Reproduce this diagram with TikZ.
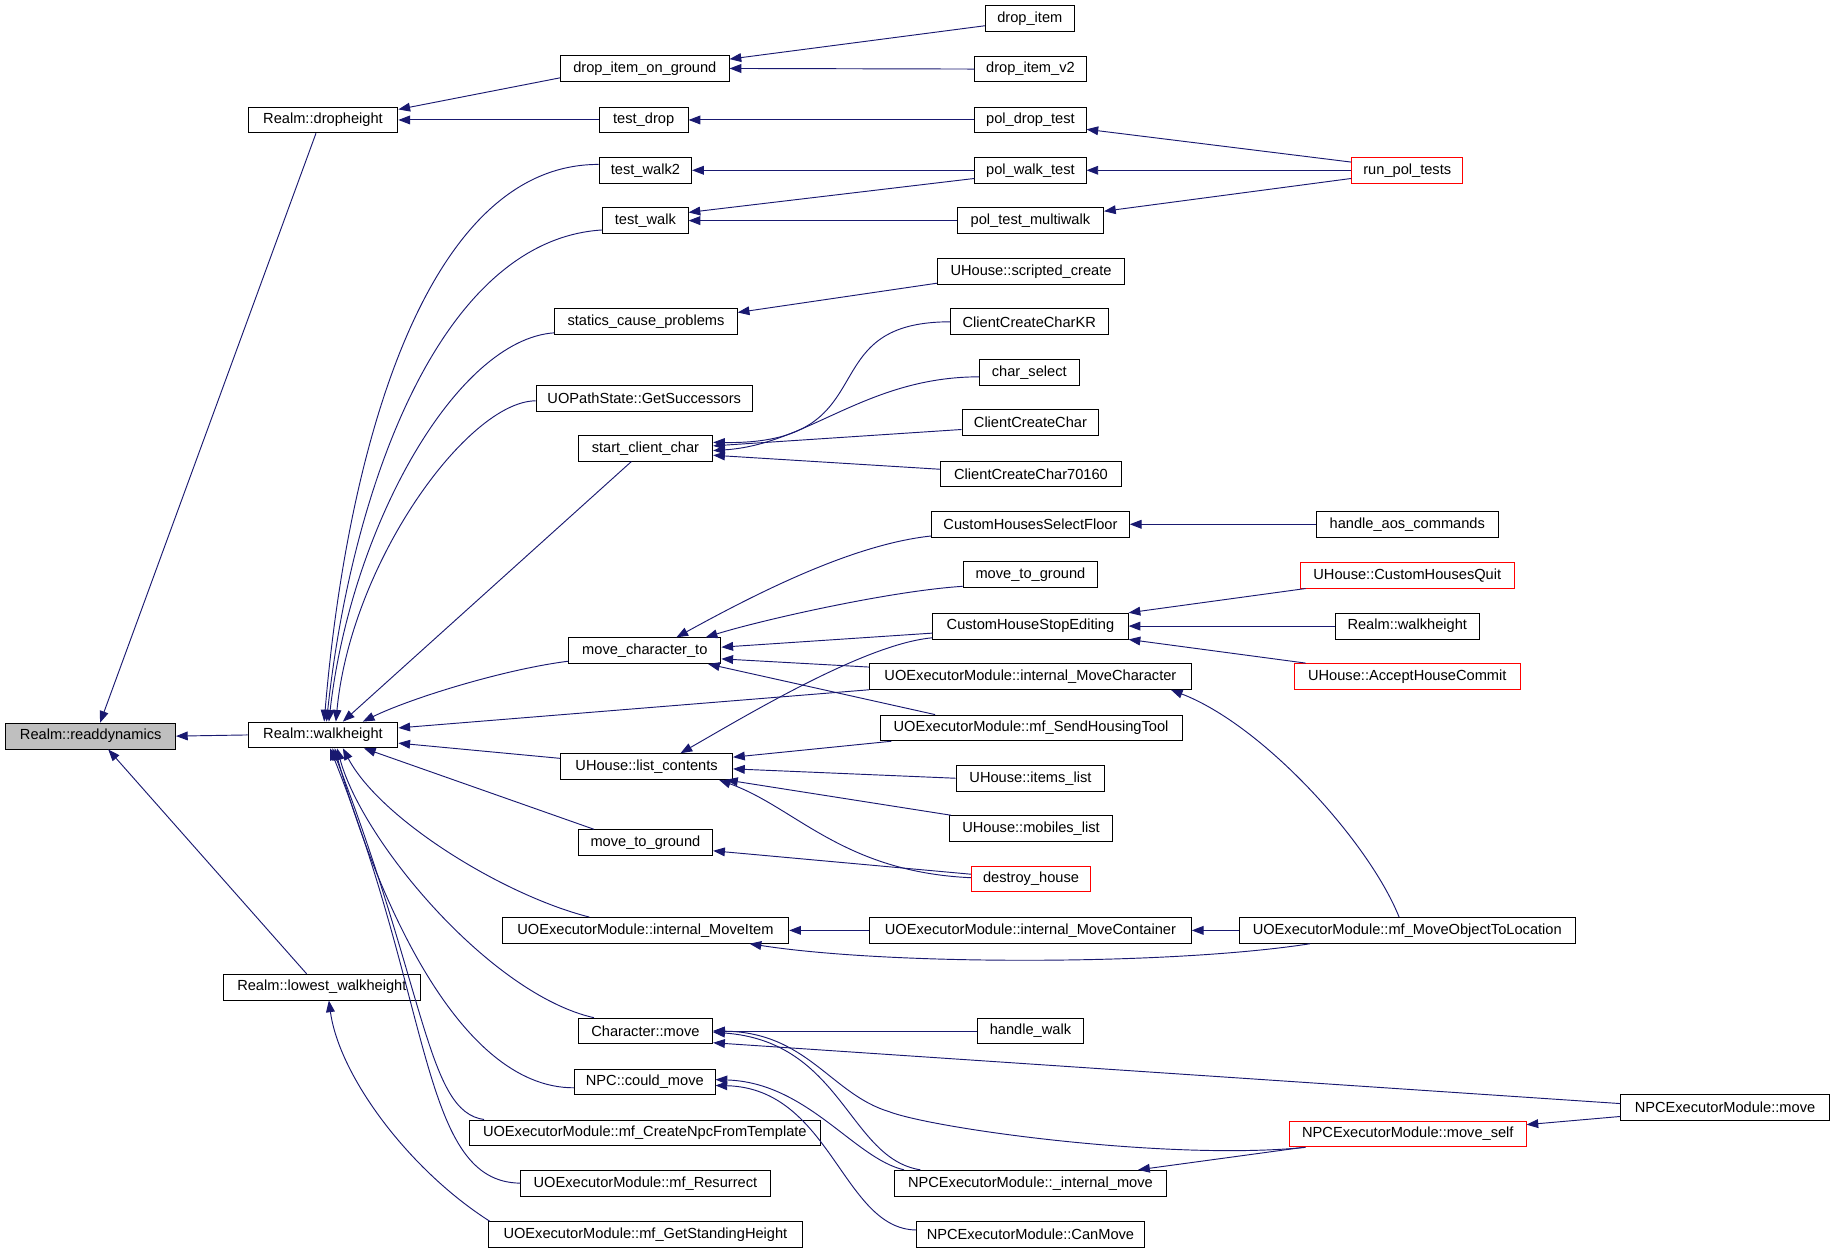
\documentclass[tikz,border=0pt]{standalone}
\usepackage{fontspec}
\setmainfont{Liberation Sans}
\usetikzlibrary{arrows.meta}
\definecolor{edgeblue}{HTML}{191970}
\tikzset{
  fn/.style={draw, fill=white, line width=0.8pt, minimum height=22pt, inner sep=0pt,
    font=\fontsize{12.5}{14}\selectfont},
  cur/.style={fn, fill=black!25},
  hl/.style={fn, draw=red},
  call/.style={draw=edgeblue, line width=0.8pt, {Triangle[length=10pt,width=7.5pt]}-}
}
\begin{document}
\begin{tikzpicture}[x=1pt, y=-1pt]
      \useasboundingbox (0,0) rectangle (1568,1071);
      \path
        (77.5,629) node[cur, minimum width=145pt] (rd) {Realm::readdynamics}
        (276,102.5) node[fn, minimum width=128pt] (dh) {Realm::dropheight}
        (276,628) node[fn, minimum width=128pt] (wh) {Realm::walkheight}
        (275,843.5) node[fn, minimum width=168pt] (lw) {Realm::lowest\_walkheight}
        (551,58.5) node[fn, minimum width=144pt] (dig) {drop\_item\_on\_ground}
        (550,102.5) node[fn, minimum width=76pt] (td) {test\_drop}
        (551.5,145.5) node[fn, minimum width=79pt] (tw2) {test\_walk2}
        (551.5,188.5) node[fn, minimum width=73pt] (tw) {test\_walk}
        (552,275) node[fn, minimum width=156pt] (scp) {statics\_cause\_problems}
        (550.5,340.5) node[fn, minimum width=185pt] (gs) {UOPathState::GetSuccessors}
        (551.5,383) node[fn, minimum width=115pt] (scc) {start\_client\_char}
        (551,556) node[fn, minimum width=130pt] (mct) {move\_character\_to}
        (552.5,655) node[fn, minimum width=147pt] (lc) {UHouse::list\_contents}
        (551.5,720) node[fn, minimum width=115pt] (mtg2) {move\_to\_ground}
        (551.5,795) node[fn, minimum width=245pt] (imi) {UOExecutorModule::internal\_MoveItem}
        (551.5,881) node[fn, minimum width=115pt] (cm) {Character::move}
        (551,924.5) node[fn, minimum width=120pt] (ncm) {NPC::could\_move}
        (551,968) node[fn, minimum width=300pt] (cnt) {UOExecutorModule::mf\_CreateNpcFromTemplate}
        (551.5,1011) node[fn, minimum width=213pt] (res) {UOExecutorModule::mf\_Resurrect}
        (551.5,1055) node[fn, minimum width=269pt] (gsh) {UOExecutorModule::mf\_GetStandingHeight}
        (880,16) node[fn, minimum width=76pt] (di) {drop\_item}
        (880.5,59) node[fn, minimum width=95pt] (div2) {drop\_item\_v2}
        (880.5,102.5) node[fn, minimum width=95pt] (pdt) {pol\_drop\_test}
        (880.5,145.5) node[fn, minimum width=95pt] (pwt) {pol\_walk\_test}
        (880.5,188.5) node[fn, minimum width=125pt] (ptm) {pol\_test\_multiwalk}
        (881,232) node[fn, minimum width=160pt] (usc) {UHouse::scripted\_create}
        (879.5,275) node[fn, minimum width=135pt] (kr) {ClientCreateCharKR}
        (879.5,318) node[fn, minimum width=85pt] (cs) {char\_select}
        (880.5,361) node[fn, minimum width=117pt] (ccc) {ClientCreateChar}
        (881,405) node[fn, minimum width=154pt] (c70) {ClientCreateChar70160}
        (880.5,448) node[fn, minimum width=169pt] (csf) {CustomHousesSelectFloor}
        (880.5,491) node[fn, minimum width=115pt] (mtg3) {move\_to\_ground}
        (880.5,535) node[fn, minimum width=167pt] (chse) {CustomHouseStopEditing}
        (880.5,578) node[fn, minimum width=275pt] (imc) {UOExecutorModule::internal\_MoveCharacter}
        (881,622) node[fn, minimum width=258pt] (sht) {UOExecutorModule::mf\_SendHousingTool}
        (880.5,665) node[fn, minimum width=127pt] (il) {UHouse::items\_list}
        (881,708) node[fn, minimum width=140pt] (ml) {UHouse::mobiles\_list}
        (881,751) node[hl, minimum width=102pt] (dhs) {destroy\_house}
        (880.5,795) node[fn, minimum width=275pt] (imct) {UOExecutorModule::internal\_MoveContainer}
        (880.5,881) node[fn, minimum width=91pt] (hw) {handle\_walk}
        (880.5,1011) node[fn, minimum width=233pt] (nim) {NPCExecutorModule::\_internal\_move}
        (880.5,1055) node[fn, minimum width=195pt] (canm) {NPCExecutorModule::CanMove}
        (1202.5,145.5) node[hl, minimum width=95pt] (rpt) {run\_pol\_tests}
        (1202.5,448) node[fn, minimum width=155pt] (hac) {handle\_aos\_commands}
        (1202.5,491.5) node[hl, minimum width=183pt] (chq) {UHouse::CustomHousesQuit}
        (1202.5,535) node[fn, minimum width=123pt] (wh2) {Realm::walkheight}
        (1202.5,578) node[hl, minimum width=193pt] (ahc) {UHouse::AcceptHouseCommit}
        (1202.5,795) node[fn, minimum width=287pt] (motl) {UOExecutorModule::mf\_MoveObjectToLocation}
        (1203,969) node[hl, minimum width=202pt] (ms) {NPCExecutorModule::move\_self}
        (1474,946) node[fn, minimum width=178pt] (nem) {NPCExecutorModule::move};
      \begin{scope}[call]
        \draw ([xshift=8pt]rd.north) to ([xshift=-6pt]dh.south);
        \draw (rd.east) to (wh.west);
        \draw ([xshift=15pt]rd.south) to ([xshift=-13pt]lw.north);
        \draw ([yshift=9pt]dh.east) to ([yshift=-8pt]dig.west);
        \draw (dh.east) to (td.west);
        \draw ([yshift=8pt]dig.east) to ([yshift=-6pt]di.west);
        \draw (dig.east) to (div2.west);
        \draw (td.east) to (pdt.west);
        \draw ([yshift=-8pt]pdt.east) to ([yshift=7pt]rpt.west);
        \draw (tw2.east) to (pwt.west);
        \draw ([yshift=7pt]tw.east) to ([yshift=-7pt]pwt.west);
        \draw (tw.east) to (ptm.west);
        \draw (pwt.east) to (rpt.west);
        \draw ([yshift=8pt]ptm.east) to ([yshift=-7pt]rpt.west);
        \draw ([xshift=1pt]wh.north) .. controls (297,380) and (365,140) .. ([yshift=5pt]tw2.west);
        \draw ([xshift=3pt]wh.north) .. controls (300,420) and (375,205) .. ([yshift=-8pt]tw.west);
        \draw ([xshift=5pt]wh.north) .. controls (300,450) and (390,290) .. ([yshift=2pt]scp.south west);
        \draw ([xshift=11pt]wh.north) .. controls (300,480) and (400,343) .. ([yshift=-2pt]gs.west);
        \draw ([xshift=17pt]wh.north) to ([xshift=-12pt]scc.south);
        \draw ([xshift=34pt]wh.north) .. controls (350,597) and (430,572) .. ([yshift=-9pt]mct.west);
        \draw ([yshift=6pt]wh.east) to (imc.south west);
        \draw ([yshift=-7pt]wh.east) to ([yshift=7pt]lc.west);
        \draw ([xshift=35pt]wh.south) to ([xshift=-44pt]mtg2.north);
        \draw ([xshift=17pt]wh.south) .. controls (325,700) and (430,765) .. ([xshift=-48pt]imi.north);
        \draw ([xshift=12pt]wh.south) .. controls (310,720) and (420,850) .. ([xshift=-44pt]cm.north);
        \draw ([xshift=10pt]wh.south) .. controls (320,760) and (390,930) .. ([yshift=-5pt]ncm.west);
        \draw ([xshift=8pt]wh.south) .. controls (365,850) and (365,950) .. ([xshift=13pt]cnt.north west);
        \draw ([xshift=6pt]wh.south) .. controls (370,860) and (360,1010) .. (res.west);
        \draw ([xshift=6pt]lw.south) .. controls (290,920) and (350,1000) .. ([xshift=2pt]gsh.north west);
        \draw ([yshift=8pt]scp.east) to ([yshift=-10pt]usc.west);
        \draw ([yshift=5pt]scc.east) .. controls (760,380) and (690,275) .. (kr.west);
        \draw ([yshift=-2pt]scc.east) .. controls (690,380) and (740,322) .. ([yshift=-4pt]cs.west);
        \draw ([yshift=2pt]scc.east) to ([yshift=-6pt]ccc.west);
        \draw ([yshift=-6pt]scc.east) to ([yshift=4pt]c70.west);
        \draw ([xshift=27pt]mct.north) .. controls (650,505) and (730,465) .. ([yshift=-10pt]csf.west);
        \draw ([xshift=52pt]mct.north) .. controls (650,530) and (760,505) .. ([yshift=-10pt]mtg3.west);
        \draw ([yshift=3pt]mct.east) to ([yshift=-6pt]chse.west);
        \draw ([yshift=-7pt]mct.east) to ([yshift=8pt]imc.west);
        \draw ([xshift=54pt]mct.south) to ([xshift=-82pt]sht.north);
        \draw ([xshift=29pt]lc.north) .. controls (640,610) and (740,550) .. ([yshift=-10pt]chse.west);
        \draw ([yshift=8pt]lc.east) to ([xshift=10pt]sht.south west);
        \draw ([yshift=-2pt]lc.east) to (il.west);
        \draw ([xshift=-6pt]lc.south east) to ([xshift=2pt]ml.north west);
        \draw ([xshift=-12pt]lc.south east) .. controls (680,690) and (720,745) .. ([yshift=1pt]dhs.west);
        \draw ([yshift=-7pt]mtg2.east) to ([yshift=4pt]dhs.west);
        \draw (imi.east) to (imct.west);
        \draw ([xshift=89pt]imi.south) .. controls (760,825) and (1000,825) .. ([xshift=-83pt]motl.south);
        \draw (cm.east) to (hw.west);
        \draw ([yshift=-10pt]cm.east) to ([yshift=3pt]nem.west);
        \draw (cm.east) .. controls (690,882) and (710,935) .. (760,950)
          .. controls (800,965) and (1000,992) .. ([xshift=14pt]ms.south west);
        \draw ([yshift=-1pt]cm.east) .. controls (720,890) and (725,990) .. ([xshift=-94pt]nim.north);
        \draw ([yshift=2pt]ncm.east) .. controls (690,925) and (730,990) .. ([xshift=-108pt]nim.north);
        \draw ([yshift=-3pt]ncm.east) .. controls (710,930) and (720,1050) .. ([yshift=4pt]canm.west);
        \draw (csf.east) to (hac.west);
        \draw (chse.north east) to ([xshift=5pt]chq.south west);
        \draw (chse.east) to (wh2.west);
        \draw (chse.south east) to ([xshift=10pt]ahc.north west);
        \draw ([xshift=120pt]imc.south) .. controls (1080,620) and (1170,720) .. ([xshift=-7pt]motl.north);
        \draw (imct.east) to (motl.west);
        \draw ([xshift=92pt]nim.north) to ([xshift=12pt]ms.south west);
        \draw ([yshift=8pt]ms.east) to ([yshift=-8pt]nem.west);
      \end{scope}
    \end{tikzpicture}
\end{document}
